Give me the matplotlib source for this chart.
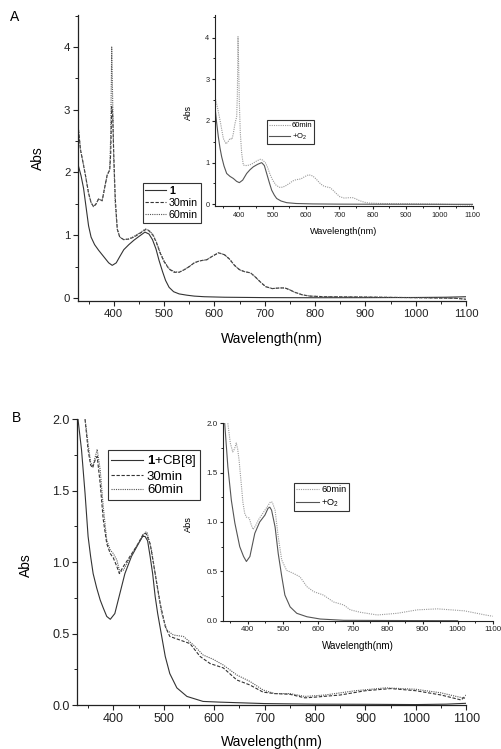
import matplotlib
matplotlib.use("Agg")
import matplotlib.pyplot as plt
from matplotlib.ticker import MultipleLocator, FormatStrFormatter

plt.rcParams['font.family'] = ['Liberation Sans', 'DejaVu Sans']
plt.rcParams['mathtext.fontset'] = 'custom'
plt.rcParams['mathtext.rm'] = 'Liberation Sans'
plt.rcParams['mathtext.bf'] = 'Liberation Sans:bold'

# ---- panel A, main plot ----
wl_a1 = [330, 335, 340, 345, 350, 355, 362, 370, 380, 390, 397, 405, 412, 420, 430, 440, 450,
         462, 470, 477, 484, 490, 497, 503, 510, 519, 530, 545, 560, 580, 620, 700, 800, 900,
         1000, 1060, 1100]
abs_a1 = [2.1, 1.95, 1.75, 1.45, 1.15, 0.97, 0.85, 0.76, 0.66, 0.56, 0.52, 0.56, 0.66, 0.77,
          0.85, 0.92, 0.98, 1.05, 1.02, 0.93, 0.78, 0.6, 0.42, 0.28, 0.17, 0.1, 0.065, 0.045,
          0.03, 0.02, 0.012, 0.006, 0.004, 0.005, 0.008, 0.012, 0.02]

wl_a30 = [330, 334, 338, 343, 350, 355, 360, 365, 370, 377, 383, 387, 392, 394, 396, 398, 400,
          403, 407, 412, 420, 430, 440, 452, 463, 470, 478, 485, 492, 500, 510, 520, 530, 540,
          550, 560, 570, 585, 595, 608, 620, 630, 640, 650, 660, 672, 682, 692, 702, 715, 730,
          740, 750, 760, 775, 790, 820, 900, 1000, 1080, 1100]
abs_a30 = [2.68, 2.36, 2.2, 1.99, 1.67, 1.52, 1.455, 1.5, 1.58, 1.55, 1.8, 1.96, 2.04, 2.3,
           3.05, 2.9, 2.3, 1.6, 1.1, 0.97, 0.93, 0.94, 0.97, 1.03, 1.09, 1.07, 1.0, 0.88, 0.72,
           0.58, 0.46, 0.41, 0.41, 0.45, 0.5, 0.56, 0.59, 0.61, 0.66, 0.72, 0.69, 0.62, 0.52,
           0.45, 0.42, 0.40, 0.33, 0.25, 0.18, 0.15, 0.16, 0.16, 0.13, 0.09, 0.05, 0.03, 0.02,
           0.015, 0.005, -0.005, -0.02]

wl_a60 = [330, 334, 338, 343, 350, 355, 360, 365, 370, 377, 383, 387, 392, 394, 396, 398, 400,
          403, 407, 412, 420, 430, 440, 452, 463, 470, 478, 485, 492, 500, 510, 520, 530, 540,
          550, 560, 570, 585, 595, 608, 620, 630, 640, 650, 660, 672, 682, 692, 702, 715, 730,
          740, 750, 760, 775, 790, 820, 900, 1000, 1080, 1100]
abs_a60 = [2.68, 2.36, 2.2, 1.99, 1.67, 1.52, 1.455, 1.5, 1.58, 1.55, 1.8, 1.96, 2.04, 2.6,
           4.0, 3.1, 2.2, 1.5, 1.1, 0.97, 0.93, 0.94, 0.98, 1.04, 1.1, 1.08, 1.01, 0.89, 0.73,
           0.59, 0.47, 0.42, 0.41, 0.45, 0.5, 0.56, 0.59, 0.61, 0.66, 0.72, 0.69, 0.62, 0.52,
           0.45, 0.42, 0.40, 0.33, 0.25, 0.18, 0.15, 0.16, 0.16, 0.13, 0.09, 0.05, 0.03, 0.02,
           0.015, 0.005, -0.005, -0.02]

# ---- panel A, inset ----
wl_ai60 = [327, 335, 342, 352, 360, 366, 372, 378, 382, 387, 392, 394, 396, 398, 400, 403, 407,
           412, 420, 430, 440, 452, 463, 470, 478, 485, 492, 500, 510, 520, 530, 540, 550, 560,
           570, 585, 595, 608, 620, 630, 640, 650, 660, 672, 682, 692, 702, 715, 730, 740, 750,
           760, 775, 790, 820, 900, 1000, 1100]
abs_ai60 = [2.57, 2.3, 2.02, 1.58, 1.45, 1.5, 1.58, 1.56, 1.7, 1.94, 2.1, 2.6, 4.02, 3.3, 2.43,
            1.7, 1.23, 0.94, 0.93, 0.94, 0.98, 1.04, 1.08, 1.06, 1.0, 0.88, 0.72, 0.58, 0.46,
            0.41, 0.41, 0.45, 0.5, 0.56, 0.59, 0.61, 0.66, 0.71, 0.68, 0.61, 0.52, 0.45, 0.42,
            0.40, 0.33, 0.25, 0.18, 0.15, 0.16, 0.16, 0.13, 0.09, 0.05, 0.03, 0.02, 0.015,
            0.005, -0.02]

wl_aio2 = [327, 332, 337, 342, 347, 354, 362, 372, 382, 392, 400, 410, 422, 432, 442, 455, 467,
           475, 482, 490, 497, 505, 512, 525, 542, 570, 620, 700, 800, 900, 1000, 1100]
abs_aio2 = [2.34, 1.95, 1.62, 1.35, 1.14, 0.92, 0.74, 0.67, 0.62, 0.55, 0.52, 0.58, 0.74, 0.83,
            0.9, 0.96, 1.0, 0.93, 0.74, 0.52, 0.34, 0.22, 0.14, 0.08, 0.04, 0.02, 0.01, 0.005,
            0.003, 0.002, 0.001, 0.0]

# ---- panel B, main plot ----
wl_b1 = [330, 337, 344, 350, 355, 360, 367, 374, 380, 387, 394, 403, 413, 423, 436, 450, 458,
         463, 468, 473, 478, 483, 488, 493, 498, 503, 512, 526, 546, 578, 612, 700, 800, 900,
         1000, 1060, 1100]
abs_b1 = [2.0, 1.785, 1.48, 1.18, 1.04, 0.92, 0.82, 0.735, 0.68, 0.62, 0.6, 0.64, 0.78, 0.92,
          1.04, 1.13, 1.18, 1.18, 1.15, 1.04, 0.92, 0.76, 0.64, 0.54, 0.44, 0.34, 0.22, 0.12,
          0.06, 0.025, 0.02, 0.01, 0.006, 0.005, 0.003, 0.006, 0.012]

wl_b30 = [344, 350, 355, 359, 364, 368, 374, 380, 387, 394, 400, 407, 412, 420, 433, 446, 460,
          465, 473, 483, 493, 503, 512, 532, 552, 572, 592, 618, 645, 671, 697, 720, 750, 780,
          800, 850, 900, 950, 1000, 1050, 1090, 1100]
abs_b30 = [2.0, 1.785, 1.68, 1.66, 1.715, 1.74, 1.55, 1.3, 1.13, 1.06, 1.03, 0.97, 0.92, 0.97,
           1.04, 1.11, 1.2, 1.2, 1.13, 0.92, 0.71, 0.55, 0.48, 0.455, 0.43, 0.34, 0.29, 0.26,
           0.175, 0.14, 0.09, 0.08, 0.075, 0.05, 0.055, 0.07, 0.1, 0.115, 0.1, 0.07, 0.035,
           0.07]

wl_b60 = [344, 350, 355, 359, 363, 368, 374, 380, 387, 394, 400, 407, 413, 420, 433, 446, 458,
          463, 467, 476, 486, 496, 506, 519, 539, 559, 578, 598, 618, 645, 671, 697, 720, 750,
          780, 820, 880, 940, 1000, 1050, 1080, 1100]
abs_b60 = [2.0, 1.83, 1.7, 1.67, 1.72, 1.79, 1.645, 1.39, 1.155, 1.085, 1.06, 1.015, 0.93,
           0.945, 1.03, 1.11, 1.18, 1.21, 1.21, 1.08, 0.85, 0.64, 0.525, 0.49, 0.48, 0.42,
           0.35, 0.32, 0.28, 0.21, 0.165, 0.105, 0.08, 0.08, 0.06, 0.07, 0.1, 0.12, 0.11,
           0.085, 0.06, 0.045]

# ---- panel B, inset ----
wl_bi60 = [343, 350, 357, 362, 367, 371, 375, 382, 386, 391, 396, 404, 410, 415, 422, 430, 449,
           465, 470, 478, 487, 497, 511, 530, 549, 569, 588, 616, 645, 674, 693, 722, 770, 827,
           885, 942, 1019, 1076, 1100]
abs_bi60 = [2.0, 1.8, 1.71, 1.74, 1.8, 1.74, 1.63, 1.36, 1.2, 1.09, 1.05, 1.04, 0.97, 0.925,
            0.96, 1.02, 1.12, 1.205, 1.2, 1.12, 0.85, 0.615, 0.51, 0.48, 0.445, 0.345, 0.295,
            0.26, 0.19, 0.16, 0.11, 0.085, 0.058, 0.075, 0.11, 0.12, 0.1, 0.06, 0.045]

wl_bio2 = [334, 343, 353, 363, 377, 388, 396, 406, 420, 434, 449, 458, 463, 468, 478, 487, 497,
           506, 521, 540, 569, 607, 674, 800, 900, 1000]
abs_bio2 = [2.0, 1.56, 1.22, 0.99, 0.75, 0.65, 0.6, 0.65, 0.885, 1.0, 1.07, 1.14, 1.15, 1.12,
            0.95, 0.68, 0.45, 0.26, 0.14, 0.075, 0.04, 0.017, 0.004, 0.002, 0.001, 0.0]

W, H = 502, 749
fig = plt.figure(figsize=(W / 100, H / 100), dpi=100)


def box(left, top, right, bottom):
    '''axes rectangle from pixel edges'''
    return [left / W, 1 - bottom / H, (right - left) / W, (bottom - top) / H]


def style(ax, tsize, major_y, minor_y, lw=0.9):
    '''Origin-like axes: only left and bottom spines, ticks pointing out'''
    for s in ['top', 'right']:
        ax.spines[s].set_visible(False)
    for s in ['left', 'bottom']:
        ax.spines[s].set_linewidth(lw)
        ax.spines[s].set_color('#222222')
    ax.xaxis.set_major_locator(MultipleLocator(100))
    ax.xaxis.set_minor_locator(MultipleLocator(50))
    ax.yaxis.set_major_locator(MultipleLocator(major_y))
    ax.yaxis.set_minor_locator(MultipleLocator(minor_y))
    ax.tick_params(which='major', direction='out', length=3.5, width=0.8, labelsize=tsize,
                   pad=2, colors='#222222')
    ax.tick_params(which='minor', direction='out', length=2, width=0.7, colors='#222222')
    ax.set_facecolor('none')


def legend(ax, x, y, size, hl, sp):
    leg = ax.legend(loc='upper left', bbox_to_anchor=(x / W, 1 - y / H),
                    bbox_transform=fig.transFigure, fontsize=size, fancybox=False,
                    edgecolor='#333333', framealpha=1, borderaxespad=0, borderpad=0.25,
                    handlelength=hl, handletextpad=0.3, labelspacing=sp)
    leg.get_frame().set_linewidth(0.8)
    return leg


dark = '#333333'
mid = '#555555'
light = '#9a9a9a'

# panel A main
ax1 = fig.add_axes(box(78, 15, 466, 301.5))
ax1.plot(wl_a1, abs_a1, color=dark, lw=0.8, label='1')
ax1.plot(wl_a30, abs_a30, color=dark, lw=0.8, ls=(0, (3, 1.5)), label='30min')
ax1.plot(wl_a60, abs_a60, color=mid, lw=0.8, ls=(0, (1, 1)), label='60min')
ax1.set_xlim(329, 1100)
ax1.set_ylim(-0.056, 4.51)
style(ax1, 8.2, 1, 0.5)
ax1.set_xlabel('Wavelength(nm)', fontsize=10)
ax1.set_ylabel('Abs', fontsize=10)
ax1.xaxis.set_label_coords(0.5, -0.106)
ax1.yaxis.set_label_coords(-0.085, 0.5)
lg = legend(ax1, 142.7, 183, 7.7, 1.9, 0.2)
lg.get_texts()[0].set_fontweight('bold')

# panel A inset
ax2 = fig.add_axes(box(215, 15, 472.7, 206))
ax2.plot(wl_ai60, abs_ai60, color=light, lw=0.8, ls=(0, (1, 1)), label='60min')
ax2.plot(wl_aio2, abs_aio2, color=mid, lw=0.8, label='+O$_2$')
ax2.set_xlim(327, 1100)
ax2.set_ylim(-0.04, 4.54)
style(ax2, 5.3, 1, 0.5, lw=0.8)
ax2.tick_params(which='major', length=2.5, pad=1.5)
ax2.tick_params(which='minor', length=1.5)
ax2.set_xlabel('Wavelength(nm)', fontsize=6.6)
ax2.set_ylabel('Abs', fontsize=6.2)
ax2.xaxis.set_label_coords(0.5, -0.108)
ax2.yaxis.set_label_coords(-0.085, 0.487)
legend(ax2, 267, 120, 5.5, 2.7, 0.3)

# panel B main
ax3 = fig.add_axes(box(77.3, 419.3, 466.3, 705))
ax3.plot(wl_b1, abs_b1, color=dark, lw=0.8, label=r'$\mathbf{1}$+CB[8]')
ax3.plot(wl_b30, abs_b30, color=dark, lw=0.8, ls=(0, (3, 1.5)), label='30min')
ax3.plot(wl_b60, abs_b60, color=mid, lw=0.8, ls=(0, (1, 1)), label='60min')
ax3.set_xlim(328.6, 1100)
ax3.set_ylim(0, 2.0)
style(ax3, 9, 0.5, 0.25)
ax3.yaxis.set_major_formatter(FormatStrFormatter('%.1f'))
ax3.set_xlabel('Wavelength(nm)', fontsize=10)
ax3.set_ylabel('Abs', fontsize=10)
ax3.xaxis.set_label_coords(0.5, -0.105)
ax3.yaxis.set_label_coords(-0.114, 0.49)
legend(ax3, 108, 450, 9.5, 2.4, 0.1)

# panel B inset
ax4 = fig.add_axes(box(223.3, 423.3, 492.7, 620.7))
ax4.plot(wl_bi60, abs_bi60, color=light, lw=0.8, ls=(0, (1, 1)), label='60min')
ax4.plot(wl_bio2, abs_bio2, color=mid, lw=0.8, label='+O$_2$')
ax4.set_xlim(330, 1100)
ax4.set_ylim(0, 2.0)
style(ax4, 5.8, 0.5, 0.25, lw=0.8)
ax4.tick_params(which='major', length=2.5, pad=1.5)
ax4.tick_params(which='minor', length=1.5)
ax4.yaxis.set_major_formatter(FormatStrFormatter('%.1f'))
ax4.set_xlabel('Wavelength(nm)', fontsize=7.1)
ax4.set_ylabel('Abs', fontsize=6.6)
ax4.xaxis.set_label_coords(0.5, -0.105)
ax4.yaxis.set_label_coords(-0.112, 0.49)
legend(ax4, 294, 483, 6.7, 2.4, 0.35)

# panel letters
fig.text(15 / W, 1 - 17 / H, 'A', fontsize=10, ha='center', va='center')
fig.text(17 / W, 1 - 418 / H, 'B', fontsize=10, ha='center', va='center')

fig.savefig('out.png', dpi=100)
